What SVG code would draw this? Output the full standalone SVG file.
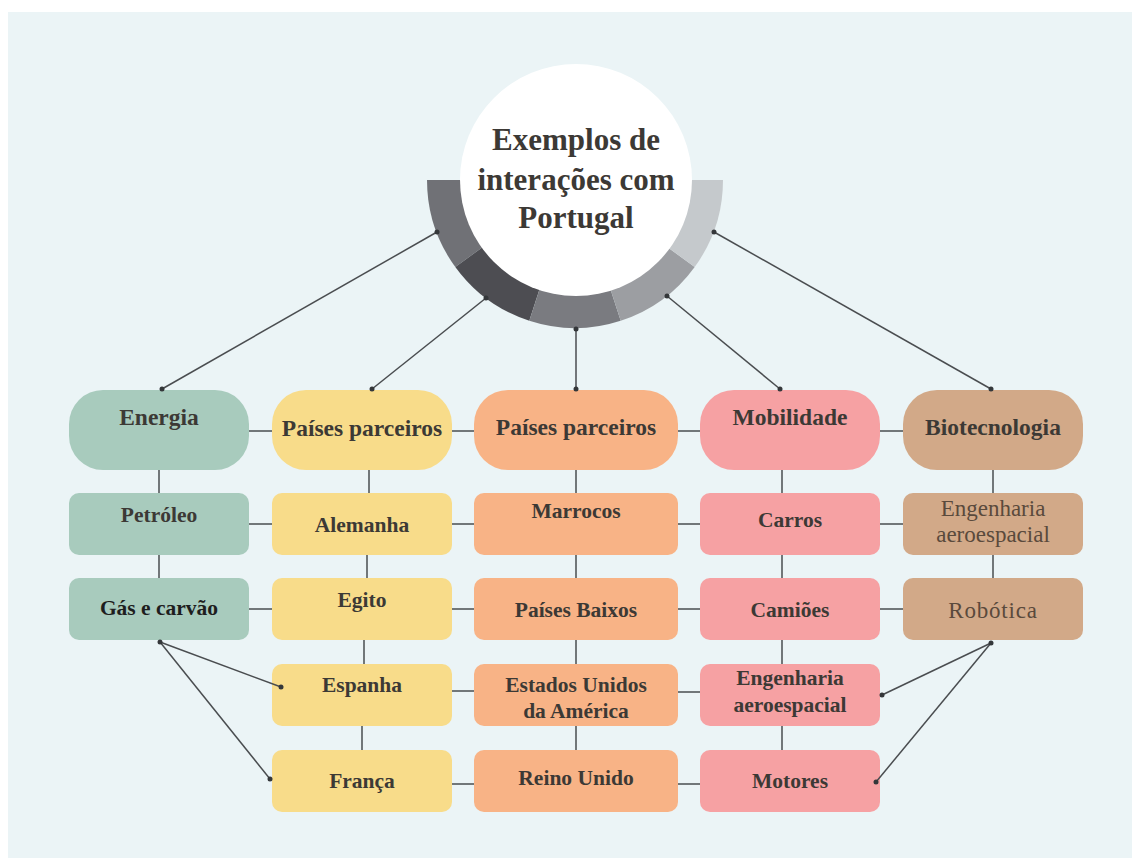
<svg xmlns="http://www.w3.org/2000/svg" width="1132" height="858" viewBox="0 0 1132 858">
<style>
text{font-family:"Liberation Serif","DejaVu Serif",serif}
.t{font-weight:bold;fill:#3c3935;text-anchor:middle}
.h{font-size:23.5px}
.s{font-size:21.5px}
.n{font-weight:normal;fill:#5a4a3c;font-size:23px}
.ln{stroke:#4a4d50;stroke-width:1.5;fill:none}
.dot{fill:#34373a}
.g{fill:#a8cbbd}.y{fill:#f8dc8a}.o{fill:#f8b386}.p{fill:#f6a1a3}.b{fill:#d2a988}
</style>
<rect x="0" y="0" width="1132" height="858" fill="#ffffff"/>
<rect x="8" y="12" width="1124" height="846" fill="#ebf4f6"/>

<g id="center">
  <path d="M575 180L427 180A148 148 0 0 0 455.3 267Z" fill="#707176"/>
  <path d="M575 180L455.3 267A148 148 0 0 0 529.3 320.8Z" fill="#4d4d52"/>
  <path d="M575 180L529.3 320.8A148 148 0 0 0 620.7 320.8Z" fill="#7a7b80"/>
  <path d="M575 180L620.7 320.8A148 148 0 0 0 694.7 267Z" fill="#9c9ea2"/>
  <path d="M575 180L694.7 267A148 148 0 0 0 723 180Z" fill="#c5c9cc"/>
  <circle cx="576" cy="180" r="116" fill="#ffffff"/>
  <text class="t" x="576" y="150" font-size="31">Exemplos de</text>
  <text class="t" x="576" y="190" font-size="31">interações com</text>
  <text class="t" x="576" y="228" font-size="31">Portugal</text>
</g>

<g id="energia"><rect class="g" x="69" y="390" width="180" height="80" rx="34"/><text class="t h" x="159" y="425">Energia</text></g>
<g id="paises1"><rect class="y" x="272" y="390" width="180" height="80" rx="34"/><text class="t h" x="362" y="436">Países parceiros</text></g>
<g id="paises2"><rect class="o" x="474" y="390" width="204" height="80" rx="34"/><text class="t h" x="576" y="435">Países parceiros</text></g>
<g id="mobilidade"><rect class="p" x="700" y="390" width="180" height="80" rx="34"/><text class="t h" x="790" y="425">Mobilidade</text></g>
<g id="biotecnologia"><rect class="b" x="903" y="390" width="180" height="80" rx="34"/><text class="t h" x="993" y="435">Biotecnologia</text></g>

<g id="petroleo"><rect class="g" x="69" y="493" width="180" height="62" rx="10"/><text class="t s" x="159" y="522">Petróleo</text></g>
<g id="gas"><rect class="g" x="69" y="578" width="180" height="62" rx="10"/><text class="t s" x="159" y="615" style="fill:#1e1e1e">Gás e carvão</text></g>

<g id="alemanha"><rect class="y" x="272" y="493" width="180" height="62" rx="10"/><text class="t s" x="362" y="532">Alemanha</text></g>
<g id="egito"><rect class="y" x="272" y="578" width="180" height="62" rx="10"/><text class="t s" x="362" y="607">Egito</text></g>
<g id="espanha"><rect class="y" x="272" y="664" width="180" height="62" rx="10"/><text class="t s" x="362" y="692">Espanha</text></g>
<g id="franca"><rect class="y" x="272" y="750" width="180" height="62" rx="10"/><text class="t s" x="362" y="788">França</text></g>

<g id="marrocos"><rect class="o" x="474" y="493" width="204" height="62" rx="10"/><text class="t s" x="576" y="518">Marrocos</text></g>
<g id="paisesbaixos"><rect class="o" x="474" y="578" width="204" height="62" rx="10"/><text class="t s" x="576" y="617">Países Baixos</text></g>
<g id="eua"><rect class="o" x="474" y="664" width="204" height="62" rx="10"/><text class="t s" x="576" y="692">Estados Unidos</text><text class="t s" x="576" y="718">da América</text></g>
<g id="reinounido"><rect class="o" x="474" y="750" width="204" height="62" rx="10"/><text class="t s" x="576" y="785">Reino Unido</text></g>

<g id="carros"><rect class="p" x="700" y="493" width="180" height="62" rx="10"/><text class="t s" x="790" y="527">Carros</text></g>
<g id="camioes"><rect class="p" x="700" y="578" width="180" height="62" rx="10"/><text class="t s" x="790" y="617">Camiões</text></g>
<g id="engenharia-p"><rect class="p" x="700" y="664" width="180" height="62" rx="10"/><text class="t s" x="790" y="685">Engenharia</text><text class="t s" x="790" y="712">aeroespacial</text></g>
<g id="motores"><rect class="p" x="700" y="750" width="180" height="62" rx="10"/><text class="t s" x="790" y="788">Motores</text></g>

<g id="engenharia-b"><rect class="b" x="903" y="493" width="180" height="62" rx="10"/><text class="t n" x="993" y="516">Engenharia</text><text class="t n" x="993" y="542">aeroespacial</text></g>
<g id="robotica"><rect class="b" x="903" y="578" width="180" height="62" rx="10"/><text class="t n" x="993" y="618" letter-spacing="0.8">Robótica</text></g>

<g id="connectors">
  <line class="ln" x1="437" y1="232" x2="162" y2="389"/>
  <line class="ln" x1="486" y1="298" x2="372" y2="389"/>
  <line class="ln" x1="576" y1="328" x2="576" y2="389"/>
  <line class="ln" x1="667" y1="296" x2="780" y2="389"/>
  <line class="ln" x1="714" y1="232" x2="991" y2="389"/>
  <path class="ln" d="M249 431H272M452 431H474M678 431H700M880 431H903"/>
  <path class="ln" d="M249 524H272M452 524H474M678 524H700M880 524H903"/>
  <path class="ln" d="M249 609H272M452 609H474M678 609H700M880 609H903"/>
  <path class="ln" d="M452 691H474M678 692H700"/>
  <path class="ln" d="M452 784H474M678 784H700"/>
  <path class="ln" d="M159 470V493M159 555V578"/>
  <path class="ln" d="M369 470V493M367 555V578M364 640V664M362 726V750"/>
  <path class="ln" d="M576 470V493M576 555V578M576 640V664M576 726V750"/>
  <path class="ln" d="M782 470V493M782 555V578M782 640V664M782 726V750"/>
  <path class="ln" d="M993 470V493M993 555V578"/>
  <line class="ln" x1="160" y1="642" x2="281" y2="687"/>
  <line class="ln" x1="160" y1="642" x2="270" y2="779"/>
  <line class="ln" x1="991" y1="643" x2="882" y2="695"/>
  <line class="ln" x1="991" y1="643" x2="876" y2="782"/>
  <circle class="dot" cx="437" cy="232" r="2.5"/>
  <circle class="dot" cx="486" cy="298" r="2.5"/>
  <circle class="dot" cx="576" cy="329" r="2.5"/>
  <circle class="dot" cx="667" cy="296" r="2.5"/>
  <circle class="dot" cx="714" cy="232" r="2.5"/>
  <circle class="dot" cx="162" cy="389" r="2.5"/>
  <circle class="dot" cx="372" cy="389" r="2.5"/>
  <circle class="dot" cx="576" cy="389" r="2.5"/>
  <circle class="dot" cx="780" cy="389" r="2.5"/>
  <circle class="dot" cx="991" cy="389" r="2.5"/>
  <circle class="dot" cx="160" cy="642" r="2.5"/>
  <circle class="dot" cx="281" cy="687" r="2.5"/>
  <circle class="dot" cx="270" cy="779" r="2.5"/>
  <circle class="dot" cx="991" cy="643" r="2.5"/>
  <circle class="dot" cx="882" cy="695" r="2.5"/>
  <circle class="dot" cx="876" cy="782" r="2.5"/>
</g>
</svg>
